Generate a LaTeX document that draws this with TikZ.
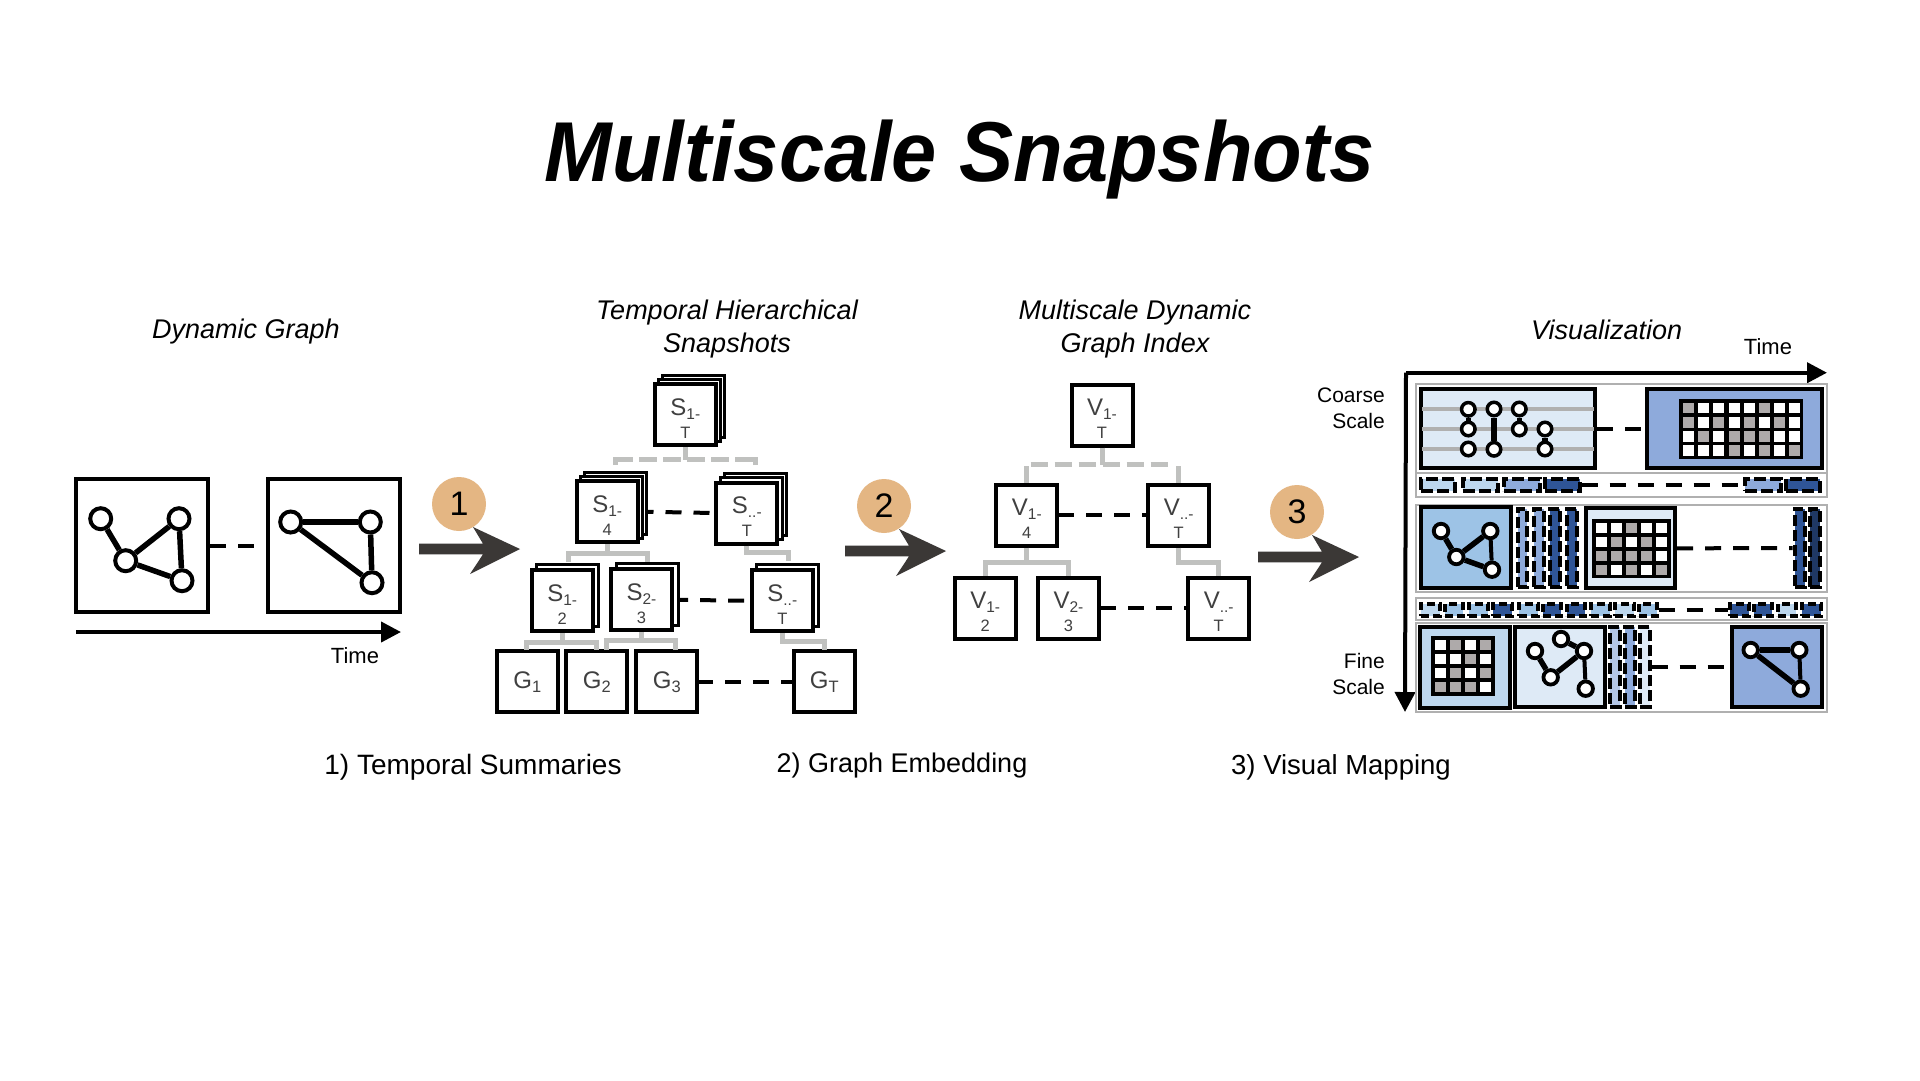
\documentclass[tikz,border=0pt]{standalone}
\usepackage{fontspec}
\setmainfont{Liberation Sans}
\definecolor{glinec}{HTML}{C0C1BF}
\definecolor{rowc}{HTML}{B0B0B0}
\definecolor{arrowc}{HTML}{3B3836}
\definecolor{badge}{HTML}{E4B683}
\definecolor{lblc}{HTML}{404040}
\definecolor{bA}{HTML}{DEEAF6}
\definecolor{bB}{HTML}{BDD7EE}
\definecolor{bC}{HTML}{9DC3E6}
\definecolor{bD}{HTML}{8EAADB}
\definecolor{bE}{HTML}{2F5597}
\definecolor{bF}{HTML}{1F3864}
\definecolor{bG}{HTML}{B4C7E7}
\definecolor{cellg}{HTML}{AEAAAA}
\definecolor{cellw}{HTML}{FFFFFF}
\usetikzlibrary{arrows.meta}
\tikzset{
  bx/.style={draw=black,line width=4pt,fill=white,minimum size=61pt,inner sep=0pt,align=center,text=lblc,font=\fontsize{24}{23}\selectfont},
  bxback/.style={bx,line width=3pt,minimum size=62pt},
  gbox/.style={draw=black,line width=4pt,fill=white,minimum width=132pt,minimum height=133pt,inner sep=0pt},
  gn/.style={circle,draw=black,fill=white,line width=4pt,minimum size=21pt,inner sep=0pt},
  gs/.style={circle,draw=black,fill=white,line width=3.5pt,minimum size=13.5pt,inner sep=0pt},
  gm/.style={circle,draw=black,fill=white,line width=3.8pt,minimum size=14.5pt,inner sep=0pt},
  ge/.style={draw=black,line width=5.5pt},
  bdash/.style={draw=black,line width=4pt,dash pattern=on 16pt off 12pt},
  gline/.style={draw=glinec,line width=5pt},
  gdash/.style={draw=glinec,line width=5pt,dash pattern=on 17.5pt off 6.5pt},
  axisline/.style={draw=black,line width=4pt,-{Triangle[length=20pt,width=20pt]}},
  rowframe/.style={draw=rowc,line width=2pt},
  vbox/.style={draw=black,line width=4pt,inner sep=0pt},
  dcell/.style={draw=black,line width=4pt,dash pattern=on 12pt off 4pt,inner sep=0pt},
  vcell/.style={draw=black,line width=4pt,dash pattern=on 11pt off 4pt,inner sep=0pt},
  scell/.style={draw=black,line width=4pt,dash pattern=on 8pt off 4pt,inner sep=0pt},
  txt/.style={inner sep=0pt,align=center,font=\fontsize{27.5}{33}\selectfont},
  itxt/.style={inner sep=0pt,align=center,font=\fontsize{27}{33}\selectfont\itshape},
  rtxt/.style={inner sep=0pt,align=right,anchor=east,font=\fontsize{21}{25.5}\selectfont},
}
\newcommand{\lbl}[3]{\rule{0pt}{24.5pt}#1\raisebox{-4pt}{\fontsize{15.5}{15}\selectfont #2}\\\fontsize{16.5}{23}\selectfont #3}
\newcommand{\lblone}[2]{#1\raisebox{-4pt}{\fontsize{16.5}{15}\selectfont #2}}
\newcommand{\stackthree}[4]{%
  \node[bxback] (#1b) at (#2+8.5,#3-8.5) {};
  \node[bxback] (#1m) at (#2+4.2,#3-4.2) {};
  \node[bx] (#1) at (#2,#3) {#4};}
\newcommand{\stacktwo}[4]{%
  \node[bxback] (#1b) at (#2+5.5,#3-5.5) {};
  \node[bx] (#1) at (#2,#3) {#4};}
\newcommand{\rnode}[6]{%
  \node[#6,minimum width={#4-#2},minimum height={#5-#3}] (#1) at ({(#2+#4)/2},{(#3+#5)/2}) {};}
\newcommand{\cells}[7]{%
  \foreach \rw [count=\j from 0] in {#7} {
    \foreach \c [count=\i from 0] in \rw {
      \fill[cell\c] ({#1+\i*#3},{#2+\j*#4}) rectangle ++(#5,#6);
    }
  }}
\newcommand{\bigarrow}[3]{%
  \coordinate (#1) at (#2,#3);
  \fill[arrowc] (#1) ++(0,-5.3) -- ++(64,0) -- ++(-10,-16.7) -- ++(47,22) -- ++(-50,25) -- ++(13,-19.7) -- ++(-64,0) -- cycle;}
\begin{document}
\begin{tikzpicture}[x=1pt,y=-1pt]
\useasboundingbox (0,0) rectangle (1920,1080);
\fill[white] (0,0) rectangle (1920,1080);

% title
\node[inner sep=0pt,font=\fontsize{85}{100}\selectfont\bfseries\itshape] (title) at (959.5,160) {\scalebox{.955}[1]{Multiscale Snapshots}};
\node[itxt] (h1) at (246,332) {Dynamic Graph};
\node[itxt] (h2) at (727,329.5) {Temporal Hierarchical\\Snapshots};
\node[itxt] (h3) at (1135,329.5) {Multiscale Dynamic\\Graph Index};
\node[itxt] (h4) at (1606.6,329.5) {Visualization};
\node[txt,font=\fontsize{28}{33}\selectfont] (c1) at (473,767) {1) Temporal Summaries};
\node[txt,font=\fontsize{27}{33}\selectfont] (c2) at (902,766) {2) Graph Embedding};
\node[txt] (c3) at (1341,767) {3) Visual Mapping};

% dynamic graph
\node[gbox] (dg1) at (142,545.5) {};
\node[gbox] (dg2) at (334,545.5) {};
\draw[bdash] (dg1.east) -- (dg2.west);
\node[gn] (a1) at (100.7,518.7) {};
\node[gn] (a2) at (179,518.7) {};
\node[gn] (a3) at (125.7,560.7) {};
\node[gn] (a4) at (182,580.7) {};
\draw[ge] (a1) -- (a3);
\draw[ge] (a3) -- (a2);
\draw[ge] (a3) -- (a4);
\draw[ge] (a2) -- (a4);
\node[gn] (b1) at (290.7,522) {};
\node[gn] (b2) at (370.3,522) {};
\node[gn] (b3) at (372,582.7) {};
\draw[ge] (b1) -- (b2);
\draw[ge] (b1) -- (b3);
\draw[ge] (b2) -- (b3);
\coordinate (t0) at (76,632);
\coordinate (t1) at (401,632);
\draw[axisline] (t0) -- (t1);
\node[inner sep=0pt,font=\fontsize{22}{25}\selectfont] (tl1) at (355,656) {Time};

% big arrows
\bigarrow{ar1}{419}{549}
\bigarrow{ar2}{845}{551}
\bigarrow{ar3}{1258}{557}
\foreach \n/\xx/\yy/\t in {p1/459/504/1,p2/884/506/2,p3/1297/512/3}{
  \node[circle,fill=badge,minimum size=54pt,inner sep=0pt,font=\fontsize{34}{34}\selectfont] (\n) at (\xx,\yy) {\t};
}

% temporal hierarchical snapshots
\coordinate (k1) at (615,465); \coordinate (k2) at (755.7,465);
\coordinate (k3) at (568,562); \coordinate (k4) at (647.3,562);
\coordinate (k5) at (788.3,561);
\coordinate (k6) at (526.7,650); \coordinate (k7) at (596.7,650);
\coordinate (k8) at (606.7,650); \coordinate (k9) at (675,650);
\coordinate (k10) at (824,650);
\stackthree{s1}{685.3}{414.7}{\lbl{S}{1-}{T}}
\stackthree{s2}{607.2}{511.8}{\lbl{S}{1-}{4}}
\stackthree{s3}{746.8}{513}{\lbl{S}{..-}{T}}
\stacktwo{s4}{562.2}{600.8}{\lbl{S}{1-}{2}}
\stacktwo{s5}{641.5}{599.8}{\lbl{S}{2-}{3}}
\stacktwo{s6}{782.3}{600.8}{\lbl{S}{..-}{T}}
\node[bx] (g1) at (527.3,681.8) {\lblone{G}{1}};
\node[bx] (g2) at (596.8,681.8) {\lblone{G}{2}};
\node[bx] (g3) at (666.8,681.8) {\lblone{G}{3}};
\node[bx] (g4) at (824.2,681.8) {\lblone{G}{T}};
\draw[gline] (s1.south) -- ++(0,13);
\draw[gdash] (k1) ++(0,-6) -- ++(140.7,0);
\draw[gline] (k1) -- ++(0,-8);
\draw[gline] (k2) -- ++(0,-8);
\draw[gline] (s2.south) -- ++(0,7);
\draw[gline] (k3) -- ++(0,-9) -| (k4);
\draw[gline] (s3.south) -- ++(0,6.5) -| (k5);
\draw[gline] (s4.south) -- ++(0,8);
\draw[gline] (k6) -- ++(0,-7.3) -| (k7);
\draw[gline] (s5.south) -- ++(0,8);
\draw[gline] (k8) -- ++(0,-9.3) -| (k9);
\draw[gline] (s6.south) -- ++(0,8) -| (k10);
\draw[bdash,dash phase=10.7pt] (s2b.east |- s2.east) -- (s3.west);
\draw[bdash,dash phase=7.3pt] (s5b.east |- s5.east) -- (s6.west);
\draw[bdash,dash phase=2.3pt] (g3.east) -- (g4.west);

% multiscale dynamic graph index
\node[bx] (v1) at (1102,415) {\lbl{V}{1-}{T}};
\node[bx] (v2) at (1026.8,515) {\lbl{V}{1-}{4}};
\node[bx] (v3) at (1178.7,515) {\lbl{V}{..-}{T}};
\node[bx] (v4) at (985.2,608) {\lbl{V}{1-}{2}};
\node[bx] (v5) at (1068.5,608) {\lbl{V}{2-}{3}};
\node[bx] (v6) at (1218.7,608) {\lbl{V}{..-}{T}};
\coordinate (m1) at (1030.7,464.7); \coordinate (m2) at (1173.3,464.7);
\draw[gdash] (m1) -- (m2);
\draw[gline] (v1.south) -- ++(0,17.5);
\draw[gline] (v2.north) -- ++(0,-17);
\draw[gline] (v3.north) -- ++(0,-17);
\draw[gline] (v2.south) -- ++(0,15);
\draw[gline] (v4.north) -- ++(0,-13.5) -| (v5.north);
\draw[gline] (v3.south) -- ++(0,15) -| (v6.north);
\draw[bdash,dash phase=1.3pt] (v2.east) -- (v3.west);
\draw[bdash,dash phase=1pt] (v5.east) -- (v6.west);

% visualization axes
\node[inner sep=0pt,font=\fontsize{22}{25}\selectfont] (tl2) at (1768,346.5) {Time};
\node[rtxt] (cs) at (1385,408.5) {Coarse\\Scale};
\node[rtxt] (fs) at (1385,674) {Fine\\Scale};
\coordinate (o) at (1406,372.7);
\coordinate (ox) at (1827,372.7);
\coordinate (oy) at (1405,712);
\draw[axisline] (o) -- (ox);
\draw[axisline] (o) -- (oy);

% row frames
\rnode{f1}{1416}{384}{1827.3}{473}{rowframe}
\rnode{f2}{1416}{473}{1827.3}{496.7}{rowframe}
\rnode{f3}{1416}{505}{1827.3}{592.3}{rowframe}
\rnode{f4}{1416}{598}{1827.3}{620}{rowframe}
\rnode{f5}{1416}{623.3}{1827.3}{711.7}{rowframe}

% row 1
\rnode{r1a}{1421}{389.3}{1595}{468.3}{vbox,fill=bA}
\rnode{r1b}{1647.4}{389.3}{1822.3}{468.3}{vbox,fill=bD}
\draw[bdash] (r1a.east) -- (r1b.west);
\foreach \yy in {408.7,429,449} \draw[rowc,line width=4pt] (1422.3,\yy) -- (1594,\yy);
\foreach \n/\xx/\yy in {q1/1468.3/409.3,q2/1468.3/429,q3/1468.3/449,q4/1494/409,q5/1494/449.3,q6/1519.3/409,q7/1519.3/429,q8/1545/429,q9/1545/449}{
  \node[gs] (\n) at (\xx,\yy) {};
}
\draw[ge] (q1) -- (q2);
\draw[ge,line width=6pt] (q4) -- (q5);
\draw[ge] (q6) -- (q7);
\draw[ge] (q8) -- (q9);
\rnode{r1m}{1679}{399}{1802.7}{458.7}{fill=black}
\cells{1683.2}{402.7}{15.1}{14.1}{11}{10.7}{{g,w,w,w,w,g,w,w},{g,w,g,w,g,w,g,w},{w,g,w,g,g,g,w,w},{w,w,w,g,w,g,w,g}}

% row 1b
\rnode{d1}{1421}{478.7}{1455.3}{491.3}{dcell,fill=bB}
\rnode{d2}{1462.7}{478.7}{1498}{491.3}{dcell,fill=bB}
\rnode{d3}{1504.3}{478.7}{1539.7}{491.3}{dcell,fill=bD}
\rnode{d4}{1545.3}{478.7}{1579.7}{491.3}{dcell,fill=bE}
\rnode{d5}{1745.3}{478.7}{1781.3}{491.3}{dcell,fill=bD}
\rnode{d6}{1786.3}{478.7}{1819.7}{491.3}{dcell,fill=bE}
\draw[bdash,dash phase=0pt] (d4.east) -- (d5.west);

% row 2
\rnode{r2a}{1421}{507.4}{1511}{588.3}{vbox,fill=bC}
\node[gm] (u1) at (1441,531) {};
\node[gm] (u2) at (1490.3,531) {};
\node[gm] (u3) at (1456.3,557) {};
\node[gm] (u4) at (1492,569.7) {};
\draw[ge] (u1) -- (u3);
\draw[ge] (u3) -- (u2);
\draw[ge] (u3) -- (u4);
\draw[ge,line width=4pt] (u2) -- (u4);
\rnode{e1}{1517.7}{508.7}{1527}{587.3}{vcell,fill=bD}
\rnode{e2}{1534.3}{508.7}{1543.7}{587.3}{vcell,fill=bD}
\rnode{e3}{1550.3}{508.7}{1560.3}{587.3}{vcell,fill=bE}
\rnode{e4}{1567}{508.7}{1577}{587.3}{vcell,fill=bE}
\rnode{r2b}{1585.7}{508.4}{1675}{588.3}{vbox,fill=bA}
\rnode{r2m}{1592.3}{519}{1671}{577.7}{fill=black}
\cells{1596.3}{522.7}{14.9}{14}{11}{10.3}{{w,w,g,w,w},{w,g,w,g,w},{g,g,g,g,w},{g,w,g,w,g}}
\rnode{e5}{1794.7}{508.7}{1804.7}{587.3}{vcell,fill=bE}
\rnode{e6}{1810.3}{508.7}{1819.7}{587.3}{vcell,fill=bF}
\draw[bdash] (r2b.east) -- (e5.west);

% row 2b
\foreach \n/\xa/\xb/\cc in {h1/1421.3/1439.7/bB,h2/1445.3/1462.7/bC,h3/1469.3/1487.7/bC,h4/1493.3/1511.7/bE,h5/1519.3/1537.7/bC,h6/1543.3/1560.7/bE,h7/1567.3/1584.7/bE,h8/1591.3/1609.7/bC,h9/1615.3/1633.7/bB,h10/1639.3/1656.7/bC,h11/1730.3/1748.7/bE,h12/1754.3/1771.7/bE,h13/1778.3/1795.7/bB,h14/1802.3/1820.7/bE}{
  \rnode{c\n}{\xa}{603.7}{\xb}{616.3}{scell,fill=\cc}
}
\draw[bdash] (ch10.east) -- (ch11.west);

% row 3
\rnode{r3a}{1420}{626.7}{1510}{707.6}{vbox,fill=bB}
\rnode{r3m}{1431}{636}{1495}{695.7}{fill=black}
\cells{1435}{640}{15}{14}{11.3}{10.3}{{w,g,w,g},{w,w,g,w},{w,g,w,g},{g,g,g,w}}
\rnode{r3b}{1515}{626.7}{1605}{707}{vbox,fill=bA}
\node[gm] (w1) at (1561,639) {};
\node[gm] (w2) at (1535,651) {};
\node[gm] (w3) at (1584,651) {};
\node[gm] (w4) at (1550.7,677.3) {};
\node[gm] (w5) at (1585.7,688.7) {};
\draw[ge] (w2) -- (w4);
\draw[ge] (w4) -- (w3);
\draw[ge] (w1) -- (w3);
\draw[ge,line width=4pt] (w3) -- (w5);
\rnode{z1}{1610.3}{627}{1619.7}{707}{vcell,fill=bG}
\rnode{z2}{1625.3}{627}{1634.7}{707}{vcell,fill=bD}
\rnode{z3}{1640.3}{627}{1649.7}{707}{vcell,fill=bA}
\rnode{r3c}{1731.7}{626.7}{1821.6}{707}{vbox,fill=bD}
\draw[bdash] (z3.east |- 0,667) -- (r3c.west |- 0,667);
\node[gm] (x1) at (1750.7,650) {};
\node[gm] (x2) at (1799.3,650) {};
\node[gm] (x3) at (1800.7,688.7) {};
\draw[ge] (x1) -- (x2);
\draw[ge] (x1) -- (x3);
\draw[ge,line width=4pt] (x2) -- (x3);
\end{tikzpicture}
\end{document}
